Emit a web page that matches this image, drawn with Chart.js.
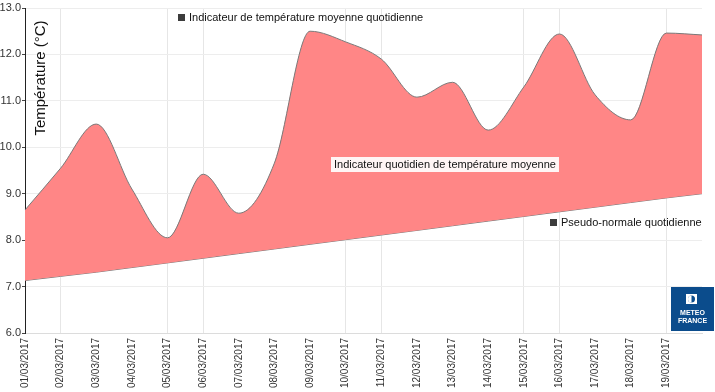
<!DOCTYPE html>
<html>
<head>
<meta charset="utf-8">
<script src="https://cdn.jsdelivr.net/npm/chart.js@4"></script>
<style>
    html, body { margin: 0; padding: 0; background: #fff; overflow: hidden; }
    canvas { display: block; }
</style>
</head>
<body>
<canvas id="myChart" width="715" height="392" style="width:715px;height:392px"></canvas>
<script>
var dates = [
    '01/03/2017', '02/03/2017', '03/03/2017', '04/03/2017', '05/03/2017',
    '06/03/2017', '07/03/2017', '08/03/2017', '09/03/2017', '10/03/2017',
    '11/03/2017', '12/03/2017', '13/03/2017', '14/03/2017', '15/03/2017',
    '16/03/2017', '17/03/2017', '18/03/2017', '19/03/2017', '20/03/2017'
]
var indicateur = [
    8.65, 9.55, 10.5, 9.1, 8.05, 9.42, 8.58, 9.66, 12.5, 12.27,
    11.9, 11.08, 11.4, 10.37, 11.3, 12.44, 11.13, 10.59, 12.46, 12.42
]
var pseudoNormale = [
    7.13, 7.22, 7.31, 7.41, 7.51, 7.61, 7.71, 7.81, 7.91, 8.01,
    8.11, 8.21, 8.31, 8.41, 8.51, 8.61, 8.71, 8.81, 8.91, 9.0
]
var yTicks = [6, 7, 8, 9, 10, 11, 12, 13]
// vertical grid lines only show on some days in the original
var gridDays = [1, 4, 5, 9, 10, 14, 15, 18]

var fontFamily = '"Liberation Sans", Arial, sans-serif'

var overlay = {
    id: 'overlay',
    afterDraw: function (chart) {
        var c = chart.ctx
        c.save()
        // y axis title drawn inside the plot
        c.fillStyle = '#111'
        c.font = '15px ' + fontFamily
        c.translate(41, 78)
        c.rotate(-Math.PI / 2)
        c.textAlign = 'center'
        c.textBaseline = 'middle'
        c.fillText('Température (°C)', 0, 0)
        c.restore()

        c.save()
        c.font = '11px ' + fontFamily
        c.textBaseline = 'middle'
        // legend items
        c.fillStyle = '#3c3c3c'
        c.fillRect(178, 14, 7, 7)
        c.fillStyle = '#111'
        c.fillText('Indicateur de température moyenne quotidienne', 189, 18)
        c.fillStyle = '#3c3c3c'
        c.fillRect(550, 219, 7, 7)
        c.fillStyle = '#111'
        c.fillText('Pseudo-normale quotidienne', 561, 223)
        // label in the band
        var txt = 'Indicateur quotidien de température moyenne'
        var w = c.measureText(txt).width
        c.fillStyle = 'rgba(255,255,255,0.92)'
        c.fillRect(331, 157, w + 6, 15)
        c.fillStyle = '#111'
        c.fillText(txt, 334, 165)

        // logo
        c.fillStyle = '#0b4c8c'
        c.fillRect(671, 287, 43, 44)
        c.fillStyle = '#fff'
        c.fillRect(686, 294, 11, 10)
        c.fillStyle = '#0b4c8c'
        c.beginPath()
        c.arc(691.5, 299, 3.5, 0, Math.PI * 2)
        c.fill()
        c.fillStyle = '#fff'
        c.beginPath()
        c.arc(691.5, 299, 3.5, Math.PI / 2, Math.PI * 1.5)
        c.fill()
        c.font = 'bold 7px ' + fontFamily
        c.textAlign = 'center'
        c.fillText('METEO', 692.5, 313)
        c.fillText('FRANCE', 692.5, 321)
        c.restore()
    }
}

var ctx = document.getElementById('myChart')
var myChart = new Chart(ctx, {
    type: 'line',
    data: {
        labels: dates,
        datasets: [{
            label: 'Indicateur de température moyenne quotidienne',
            data: indicateur,
            borderColor: '#7a7a7a',
            borderWidth: 1,
            backgroundColor: 'rgb(255,134,134)',
            fill: '+1',
            cubicInterpolationMode: 'monotone',
            pointRadius: 0
        }, {
            label: 'Pseudo-normale quotidienne',
            data: pseudoNormale,
            borderColor: '#7a7a7a',
            borderWidth: 1,
            fill: false,
            cubicInterpolationMode: 'monotone',
            pointRadius: 0
        }]
    },
    options: {
        responsive: false,
        maintainAspectRatio: false,
        animation: false,
        devicePixelRatio: 1,
        layout: { padding: { top: 8, right: 0, left: 0, bottom: 0 } },
        plugins: {
            legend: { display: false },
            tooltip: { enabled: false }
        },
        scales: {
            x: {
                offset: false,
                border: { color: '#dcdcdc' },
                grid: {
                    color: function (c) {
                        return gridDays.indexOf(c.index) >= 0 ? '#e6e6e6' : 'rgba(0,0,0,0)'
                    },
                    tickLength: 4,
                    tickColor: 'rgba(0,0,0,0)'
                },
                ticks: {
                    autoSkip: false,
                    maxRotation: 90,
                    minRotation: 90,
                    padding: 1,
                    color: '#333',
                    font: { family: fontFamily, size: 10 },
                    callback: function (v, i) {
                        return i === dates.length - 1 ? '' : dates[i]
                    }
                },
                afterFit: function (s) { s.height = 59 }
            },
            y: {
                min: 6,
                max: 13,
                border: { color: '#222', width: 1 },
                grid: { color: '#ededed', tickLength: 3, tickColor: '#444' },
                afterBuildTicks: function (s) {
                    s.ticks = yTicks.map(function (v) { return { value: v } })
                },
                ticks: {
                    padding: 1,
                    color: '#333',
                    font: { family: fontFamily, size: 11 },
                    callback: function (v) { return v.toFixed(1) }
                },
                afterFit: function (s) { s.width = 25 }
            }
        }
    },
    plugins: [overlay]
})
</script>
</body>
</html>
